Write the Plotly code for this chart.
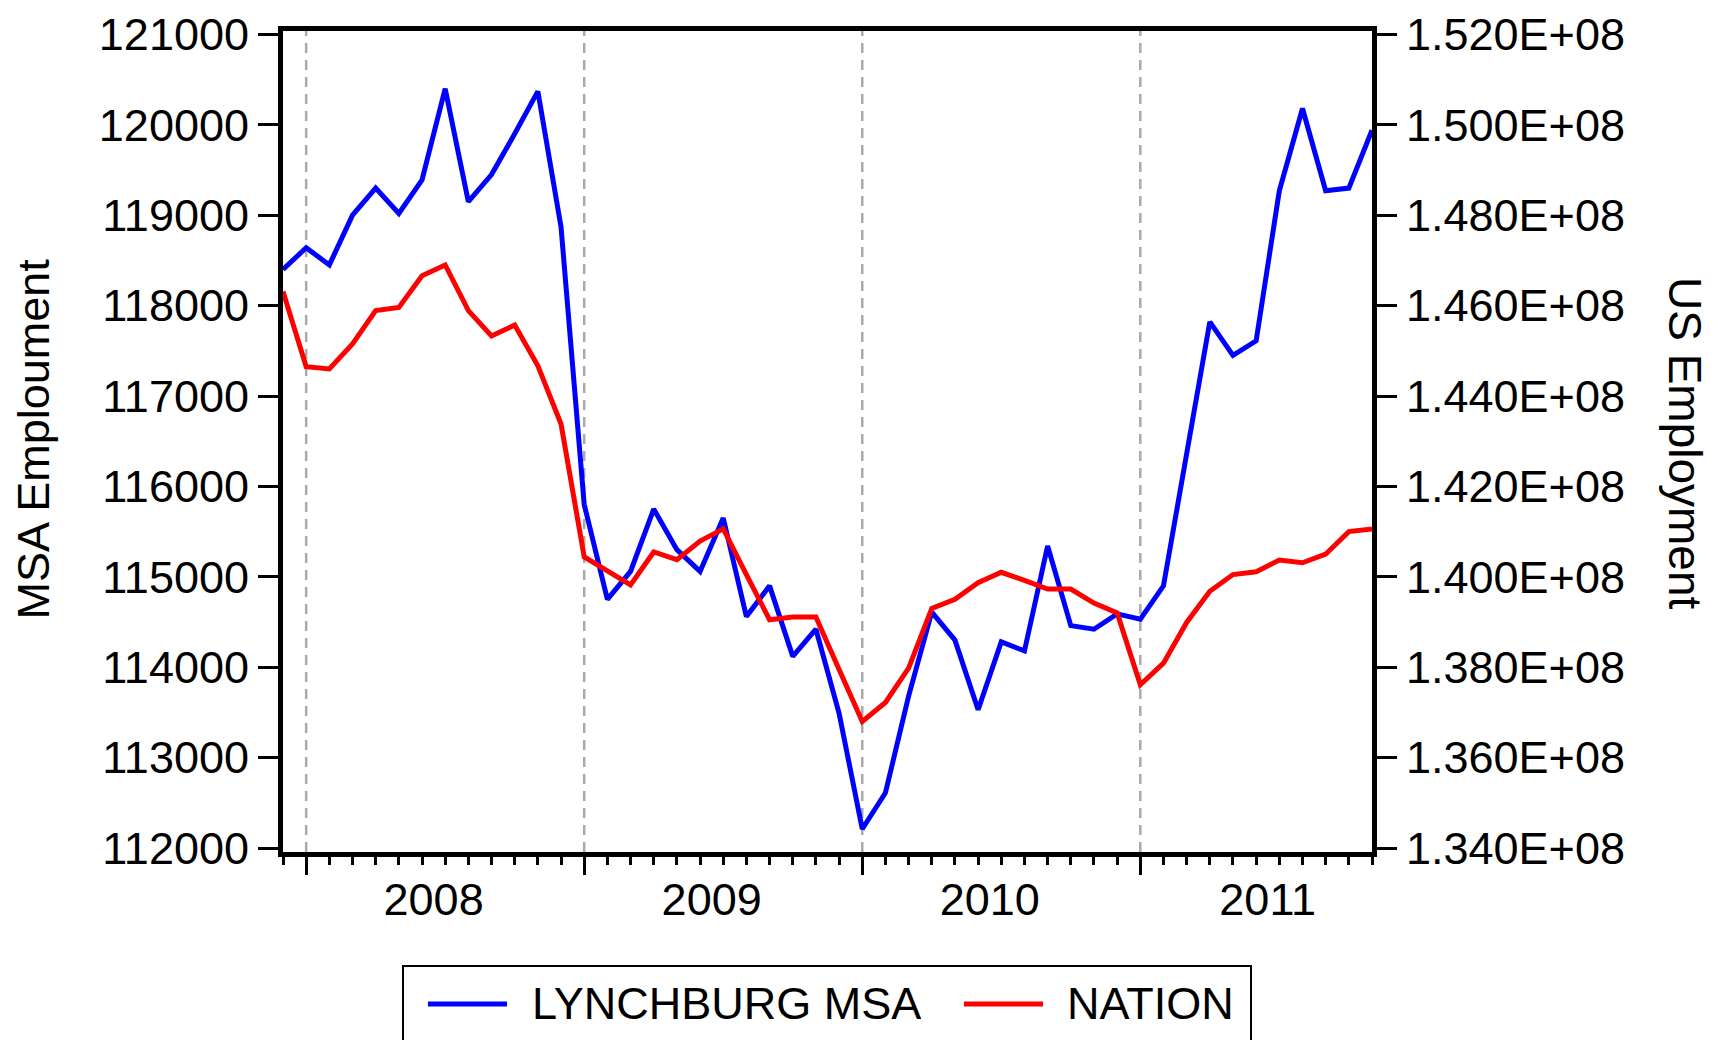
import plotly.graph_objects as go

# ---- data -------------------------------------------------------------
months = [
    "2007-12",
    "2008-01", "2008-02", "2008-03", "2008-04", "2008-05", "2008-06",
    "2008-07", "2008-08", "2008-09", "2008-10", "2008-11", "2008-12",
    "2009-01", "2009-02", "2009-03", "2009-04", "2009-05", "2009-06",
    "2009-07", "2009-08", "2009-09", "2009-10", "2009-11", "2009-12",
    "2010-01", "2010-02", "2010-03", "2010-04", "2010-05", "2010-06",
    "2010-07", "2010-08", "2010-09", "2010-10", "2010-11", "2010-12",
    "2011-01", "2011-02", "2011-03", "2011-04", "2011-05", "2011-06",
    "2011-07", "2011-08", "2011-09", "2011-10", "2011-11",
]

lynchburg_msa = [
    118400,
    118640, 118450, 119000, 119300, 119020, 119390,
    120400, 119150, 119450, 119900, 120370, 118870,
    115800, 114750, 115060, 115750, 115300, 115060,
    115650, 114560, 114900, 114120, 114420, 113490,
    112210, 112610, 113680, 114610, 114300, 113530,
    114280, 114180, 115340, 114460, 114420, 114590,
    114530, 114900, 116380, 117820, 117450, 117610,
    119270, 120180, 119270, 119300, 119940,
]

nation = [
    146310000,
    144650000, 144600000, 145150000, 145890000, 145960000, 146660000,
    146900000, 145890000, 145330000, 145570000, 144670000, 143380000,
    140440000, 140130000, 139820000, 140550000, 140380000, 140790000,
    141060000, 140050000, 139050000, 139110000, 139110000, 137950000,
    136800000, 137220000, 137980000, 139300000, 139500000, 139870000,
    140100000, 139920000, 139730000, 139730000, 139420000, 139200000,
    137610000, 138090000, 138990000, 139680000, 140050000, 140110000,
    140370000, 140310000, 140500000, 141000000, 141060000,
]

left_ticks = [112000, 113000, 114000, 115000, 116000,
              117000, 118000, 119000, 120000, 121000]
right_ticks = [134000000, 136000000, 138000000, 140000000, 142000000,
               144000000, 146000000, 148000000, 150000000, 152000000]
years = ["2008", "2009", "2010", "2011"]

series_names = ["LYNCHBURG MSA", "NATION"]
left_title = "MSA Emploument"
right_title = "US Employment"

# ---- derived positions (month index axis) -----------------------------
x = list(range(len(months)))
jan_idx = [i for i, m in enumerate(months) if m.endswith("-01")]
other_idx = [i for i in x if i not in jan_idx]
year_centers = [months.index(y + "-01") + 5.5 for y in years]

FONT = "Liberation Sans, Arial, sans-serif"
BLUE = "#0000FF"
RED = "#FF0000"

fig = go.Figure()
fig.add_trace(go.Scatter(x=x, y=lynchburg_msa, mode="lines", name=series_names[0],
                         line=dict(color=BLUE, width=5), showlegend=False,
                         text=months, xaxis="x", yaxis="y"))
fig.add_trace(go.Scatter(x=x, y=nation, mode="lines", name=series_names[1],
                         line=dict(color=RED, width=5), showlegend=False,
                         text=months, xaxis="x", yaxis="y2"))
# invisible trace so that the label axis is drawn
fig.add_trace(go.Scatter(x=[x[0], x[-1]], y=[lynchburg_msa[0], lynchburg_msa[0]],
                         mode="lines", line=dict(width=0), opacity=0,
                         hoverinfo="skip", showlegend=False, xaxis="x2", yaxis="y"))

xr = [x[0], x[-1]]
fig.update_layout(
    width=1721, height=1040,
    margin=dict(l=275, r=357, t=23, b=196, autoexpand=False),
    paper_bgcolor="white", plot_bgcolor="white",
    font=dict(family=FONT, size=45, color="black"),
    xaxis=dict(
        range=xr, showgrid=False, zeroline=False, automargin=False,
        showline=True, linewidth=5, linecolor="black", mirror=True,
        tickmode="array", tickvals=jan_idx, showticklabels=False,
        ticks="outside", ticklen=18, tickwidth=2.5, tickcolor="black",
        minor=dict(tickmode="array", tickvals=other_idx, ticks="outside",
                   ticklen=8, tickwidth=2.5, tickcolor="black", showgrid=False),
    ),
    xaxis2=dict(
        range=xr, overlaying="x", anchor="y", side="bottom", automargin=False,
        showgrid=False, zeroline=False, showline=False,
        tickmode="array", tickvals=year_centers, ticktext=years,
        ticks="outside", ticklen=8, tickcolor="rgba(0,0,0,0)",
        ticklabeloverflow="allow",
        tickfont=dict(family=FONT, size=45, color="black"),
    ),
    yaxis=dict(
        range=[111955.8, 121037.7], showgrid=False, zeroline=False, automargin=False,
        showline=True, linewidth=5, linecolor="black",
        tickmode="array", tickvals=left_ticks,
        ticktext=[str(v) for v in left_ticks],
        ticks="outside", ticklen=20, tickwidth=2.5, tickcolor="black",
        ticklabeloverflow="allow",
        tickfont=dict(family=FONT, size=45, color="black"),
    ),
    yaxis2=dict(
        range=[133911500, 152075300], overlaying="y", side="right", anchor="x",
        showgrid=False, zeroline=False, automargin=False,
        showline=True, linewidth=5, linecolor="black",
        tickmode="array", tickvals=right_ticks,
        ticktext=[f"{v:.3E}" for v in right_ticks],
        ticks="outside", ticklen=20, tickwidth=2.5, tickcolor="black",
        ticklabeloverflow="allow",
        tickfont=dict(family=FONT, size=45, color="black"),
    ),
)

# dashed vertical lines at each January
for i in jan_idx:
    fig.add_shape(type="line", xref="x", yref="paper", x0=i, x1=i, y0=0, y1=1,
                  line=dict(color="#AAAAAA", width=2.5, dash="10px,7px"),
                  layer="below")

# axis titles
fig.add_annotation(text=left_title, xref="paper", yref="paper",
                   x=-0.2287, y=0.5037, textangle=-90, showarrow=False,
                   xanchor="center", yanchor="middle",
                   font=dict(family=FONT, size=45, color="black"))
fig.add_annotation(text=right_title, xref="paper", yref="paper",
                   x=1.2874, y=0.497, textangle=90, showarrow=False,
                   xanchor="center", yanchor="middle",
                   font=dict(family=FONT, size=46, color="black"))

# legend (box at the bottom, as in the original)
fig.add_shape(type="rect", xref="paper", yref="paper",
              x0=0.1102, x1=0.8889, y0=-0.26, y1=-0.1389,
              line=dict(color="black", width=2), fillcolor="white")
legend_items = [
    (series_names[0], BLUE, 0.1331, 0.2057, 0.2268),
    (series_names[1], RED, 0.6253, 0.6979, 0.7181),
]
for name, col, lx0, lx1, tx in legend_items:
    fig.add_shape(type="line", xref="paper", yref="paper",
                  x0=lx0, x1=lx1, y0=-0.1851, y1=-0.1851,
                  line=dict(color=col, width=5))
    fig.add_annotation(text=name, xref="paper", yref="paper", x=tx, y=-0.1851,
                       showarrow=False, xanchor="left", yanchor="middle",
                       font=dict(family=FONT, size=45, color="black"))

fig.write_html("out.html")
